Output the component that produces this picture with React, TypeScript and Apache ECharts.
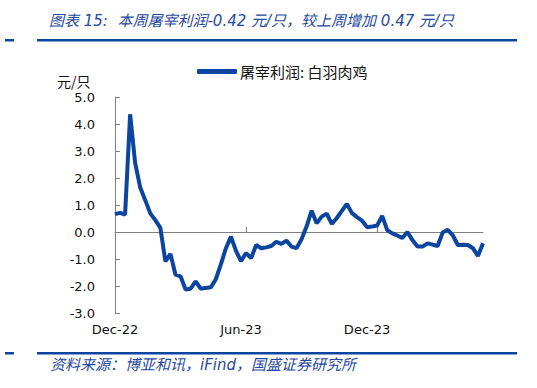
import React, { useEffect, useRef } from "react";
import * as echarts from "echarts";

const weeks: string[] = [
  "2022-12-01", "2022-12-08", "2022-12-15", "2022-12-22", "2022-12-29",
  "2023-01-05", "2023-01-12", "2023-01-19", "2023-01-26", "2023-02-02",
  "2023-02-09", "2023-02-16", "2023-02-23", "2023-03-02", "2023-03-09",
  "2023-03-16", "2023-03-23", "2023-03-30", "2023-04-06", "2023-04-13",
  "2023-04-20", "2023-04-27", "2023-05-04", "2023-05-11", "2023-05-18",
  "2023-05-25", "2023-06-01", "2023-06-08", "2023-06-15", "2023-06-22",
  "2023-06-29", "2023-07-06", "2023-07-13", "2023-07-20", "2023-07-27",
  "2023-08-03", "2023-08-10", "2023-08-17", "2023-08-24", "2023-08-31",
  "2023-09-07", "2023-09-14", "2023-09-21", "2023-09-28", "2023-10-05",
  "2023-10-12", "2023-10-19", "2023-10-26", "2023-11-02", "2023-11-09",
  "2023-11-16", "2023-11-23", "2023-11-30", "2023-12-07", "2023-12-14",
  "2023-12-21", "2023-12-28", "2024-01-04", "2024-01-11", "2024-01-18",
  "2024-01-25", "2024-02-01", "2024-02-08", "2024-02-15", "2024-02-22",
  "2024-02-29", "2024-03-07", "2024-03-14", "2024-03-21", "2024-03-28",
  "2024-04-04", "2024-04-11", "2024-04-18", "2024-04-25",
];

const profit: number[] = [
  0.66, 0.71, 0.64, 4.36, 2.55, 1.65, 1.18, 0.69, 0.44, 0.15,
  -1.09, -0.81, -1.58, -1.64, -2.13, -2.1, -1.83, -2.1, -2.07, -2.05,
  -1.75, -1.2, -0.6, -0.17, -0.7, -1.08, -0.78, -0.97, -0.48, -0.6,
  -0.57, -0.52, -0.36, -0.44, -0.32, -0.54, -0.6, -0.27, 0.2, 0.79,
  0.32, 0.57, 0.68, 0.3, 0.52, 0.78, 1.04, 0.7, 0.55, 0.42,
  0.18, 0.2, 0.24, 0.6, 0.07, -0.05, -0.13, -0.22, 0.0, -0.3,
  -0.54, -0.54, -0.42, -0.47, -0.52, -0.02, 0.08, -0.12, -0.48, -0.47,
  -0.48, -0.6, -0.89, -0.42,
];

const tickIndices: number[] = [0, 26, 52];
const labelIndices: number[] = [0, 25, 50];
const labelTexts: string[] = ["Dec-22", "Jun-23", "Dec-23"];

const seriesName = "屠宰利润: 白羽肉鸡";
const titleText = "图表 15:  本周屠宰利润-0.42 元/只，较上周增加 0.47 元/只";
const sourceText = "资料来源：博亚和讯，iFind，国盛证券研究所";
const unitText = "元/只";

const BLUE = "#0b45a0";
const TITLE_BLUE = "#1f4aa0";
const AXIS_GRAY = "#7f7f7f";

export default function App() {
  const ref = useRef<HTMLDivElement>(null);
  useEffect(() => {
    if (!ref.current) return;
    document.body.style.margin = "0";
    const chart = echarts.init(ref.current, undefined, { renderer: "svg" });
    chart.setOption({
      animation: false,
      backgroundColor: "#ffffff",
      textStyle: { fontFamily: "DejaVu Sans, Noto Sans CJK SC" },
      grid: { left: 115, right: 54, top: 97, bottom: 75, containLabel: false },
      legend: {
        left: 192,
        top: 59,
        itemWidth: 40,
        itemHeight: 5,
        itemGap: 3,
        icon: "roundRect",
        data: [seriesName],
        textStyle: {
          fontFamily: "Noto Sans CJK SC",
          fontSize: 15,
          color: "#111",
          padding: [0, 0, 0, -2],
        },
      },
      xAxis: [
        {
          type: "category",
          data: weeks,
          boundaryGap: false,
          axisLine: { onZero: true, lineStyle: { color: AXIS_GRAY, width: 1 } },
          axisTick: {
            show: true,
            inside: true,
            length: 5,
            lineStyle: { color: AXIS_GRAY },
            interval: (i: number) => tickIndices.includes(i),
          },
          axisLabel: { show: false },
          splitLine: { show: false },
        },
        {
          type: "category",
          data: weeks,
          boundaryGap: false,
          position: "bottom",
          axisLine: { show: false, onZero: false },
          axisTick: { show: false },
          axisLabel: {
            show: true,
            interval: (i: number) => labelIndices.includes(i),
            formatter: (_v: string, i: number) => {
              const k = labelIndices.indexOf(i);
              return k >= 0 ? labelTexts[k] : "";
            },
            fontSize: 13,
            color: "#111",
            margin: 10,
            fontFamily: "DejaVu Sans",
          },
          splitLine: { show: false },
        },
      ],
      yAxis: {
        type: "value",
        min: -3,
        max: 5,
        interval: 1,
        axisLine: { show: true, lineStyle: { color: AXIS_GRAY, width: 1 } },
        axisTick: { show: true, inside: true, length: 5, lineStyle: { color: AXIS_GRAY } },
        axisLabel: {
          formatter: (v: number) => v.toFixed(1),
          fontSize: 13,
          color: "#111",
          margin: 20,
          fontFamily: "DejaVu Sans",
        },
        splitLine: { show: false },
      },
      series: [
        {
          name: seriesName,
          type: "line",
          xAxisIndex: 0,
          data: profit,
          symbol: "none",
          lineStyle: { color: BLUE, width: 4 },
          itemStyle: { color: BLUE },
        },
      ],
      graphic: [
        {
          type: "text",
          left: 49,
          top: 13,
          style: {
            text: titleText,
            fill: TITLE_BLUE,
            font: "italic 15px 'DejaVu Sans', 'Noto Sans CJK SC'",
          },
        },
        { type: "rect", shape: { x: 37, y: 39, width: 480, height: 2.5 }, style: { fill: BLUE } },
        { type: "rect", shape: { x: 5, y: 39, width: 9, height: 2.5 }, style: { fill: BLUE } },
        {
          type: "text",
          left: 57,
          top: 74,
          style: { text: unitText, fill: "#111", font: "14px 'Noto Sans CJK SC'" },
        },
        { type: "rect", shape: { x: 37, y: 352, width: 480, height: 2.5 }, style: { fill: BLUE } },
        { type: "rect", shape: { x: 5, y: 352, width: 9, height: 2.5 }, style: { fill: BLUE } },
        {
          type: "text",
          left: 50,
          top: 357,
          style: {
            text: sourceText,
            fill: TITLE_BLUE,
            font: "italic 15px 'DejaVu Sans', 'Noto Sans CJK SC'",
          },
        },
      ],
    });
    return () => chart.dispose();
  }, []);
  return <div ref={ref} style={{ width: 537, height: 388 }} />;
}
